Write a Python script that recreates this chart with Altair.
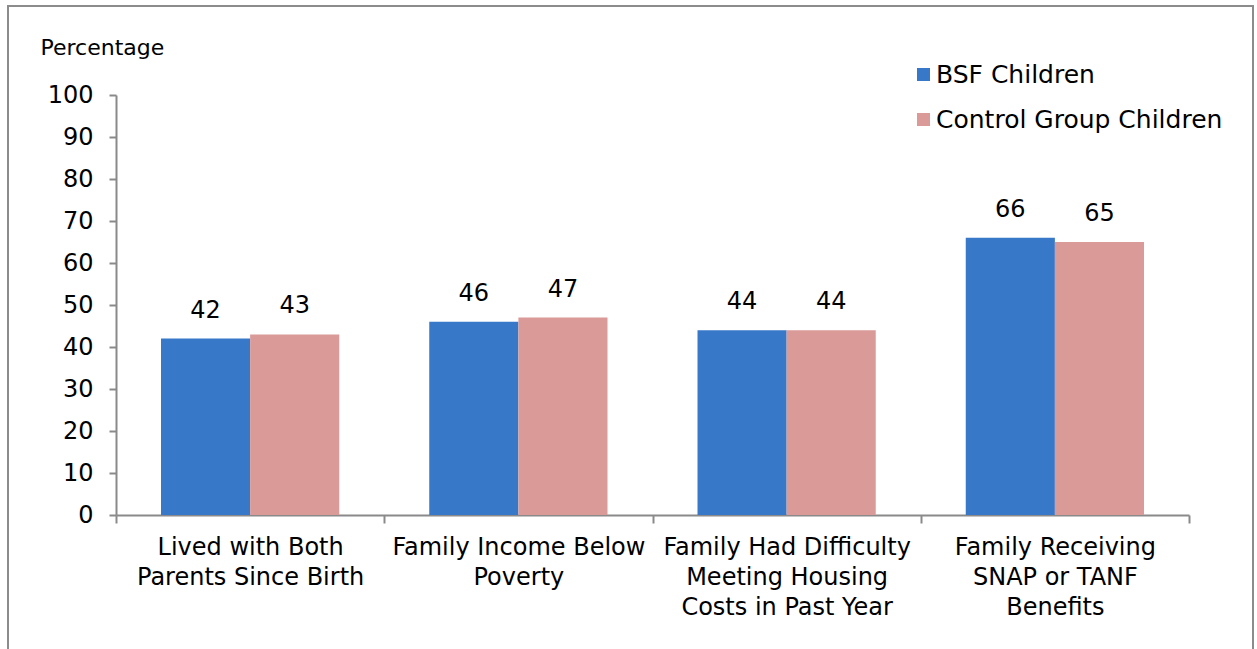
import altair as alt
import pandas as pd

categories = [
    "Lived with Both|Parents Since Birth",
    "Family Income Below|Poverty",
    "Family Had Difficulty|Meeting Housing|Costs in Past Year",
    "Family Receiving|SNAP or TANF|Benefits",
]
series = ["BSF Children", "Control Group Children"]
bsf_values = [42, 46, 44, 66]
control_values = [43, 47, 44, 65]
colors = ["#3778C9", "#DA9A98"]

rows = []
for c, b, k in zip(categories, bsf_values, control_values):
    rows.append({"category": c, "group": series[0], "value": b})
    rows.append({"category": c, "group": series[1], "value": k})
df = pd.DataFrame(rows)

FONT = "DejaVu Sans"
GRAY = "#8a8a8a"

x_enc = alt.X(
    "category:N",
    sort=categories,
    scale=alt.Scale(paddingInner=0, paddingOuter=0),
    axis=alt.Axis(
        title=None,
        labelAngle=0,
        labelExpr="split(datum.label, '|')",
        labelFont=FONT,
        labelFontSize=24,
        labelLineHeight=30,
        labelColor="#000000",
        labelAlign="center",
        labelBaseline="top",
        labelPadding=12,
        tickBand="extent",
        tickSize=8,
        tickColor=GRAY,
        tickWidth=2,
        domainColor=GRAY,
        domainWidth=2,
        labelLimit=400,
    ),
)
xoff = alt.XOffset(
    "group:N",
    sort=series,
    scale=alt.Scale(domain=series, paddingInner=0, paddingOuter=0.505),
)
y_enc = alt.Y(
    "value:Q",
    scale=alt.Scale(domain=[0, 100], nice=False),
    axis=alt.Axis(
        title="Percentage",
        titleAngle=0,
        titleAlign="left",
        titleBaseline="alphabetic",
        titleX=-76,
        titleY=-41,
        titleFont=FONT,
        titleFontSize=22,
        titleFontWeight="normal",
        titleColor="#000000",
        values=list(range(0, 101, 10)),
        labelFont=FONT,
        labelFontSize=24,
        labelColor="#000000",
        labelPadding=16,
        tickSize=7,
        tickColor=GRAY,
        tickWidth=2,
        domainColor=GRAY,
        domainWidth=2,
        grid=False,
    ),
)

bars = alt.Chart(df).mark_bar().encode(
    x=x_enc,
    xOffset=xoff,
    y=y_enc,
    color=alt.Color(
        "group:N",
        sort=series,
        scale=alt.Scale(domain=series, range=colors),
        legend=alt.Legend(
            title=None,
            orient="none",
            legendX=795,
            legendY=-33,
            symbolType="square",
            symbolSize=169,
            symbolStrokeWidth=0,
            labelFont=FONT,
            labelFontSize=25,
            labelColor="#000000",
            labelOffset=0,
            rowPadding=19,
            labelLimit=400,
        ),
    ),
)

labels = alt.Chart(df).mark_text(
    baseline="bottom", dy=-16, font=FONT, fontSize=24, color="#000000"
).encode(
    x=alt.X("category:N", sort=categories),
    xOffset=xoff,
    y=alt.Y("value:Q"),
    text=alt.Text("value:Q"),
)

frame = alt.Chart(alt.Data(values=[{"f": 1}])).mark_rect(
    filled=False, stroke="#8c8c8c", strokeWidth=2
).encode(
    x=alt.value(-108),
    x2=alt.value(1137),
    y=alt.value(-89),
    y2=alt.value(600),
)

chart = alt.layer(frame, bars, labels).properties(
    width=1073,
    height=420,
    autosize=alt.AutoSizeParams(type="none"),
    padding={"left": 116, "top": 95, "right": 68, "bottom": 134},
).configure(background="white").configure_view(stroke=None)

chart.save("out.html", embed_options={"renderer": "svg", "actions": False})
